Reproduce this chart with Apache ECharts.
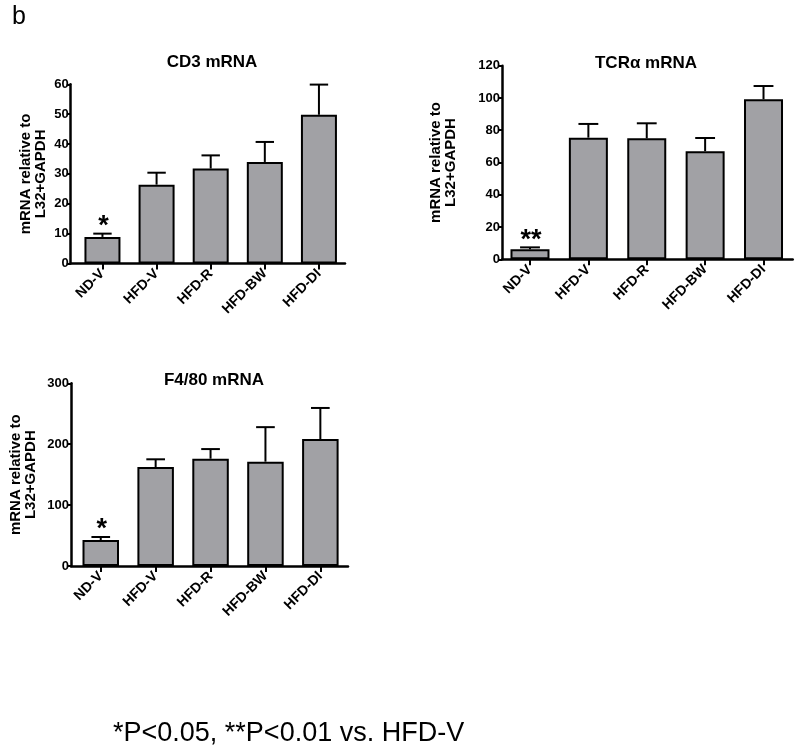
<!DOCTYPE html>
<html>
<head>
<meta charset="utf-8">
<script src="https://cdn.jsdelivr.net/npm/echarts@6/dist/echarts.min.js"></script>
<style>
html,body{margin:0;padding:0;background:#fff;}
#c{width:800px;height:755px;}
</style>
</head>
<body>
<div id="c"></div>
<script>
// ---- data ----
var categories = ['ND-V', 'HFD-V', 'HFD-R', 'HFD-BW', 'HFD-DI'];

var cd3Mean  = [8.9, 26.4, 31.8, 34.0, 49.8];
var cd3Upper = [10.0, 30.4, 36.2, 40.7, 59.9];
var cd3Sig   = ['*', '', '', '', ''];
var cd3Ticks = {min: 0, max: 60, interval: 10};

var tcrMean  = [6.2, 75.4, 75.0, 67.0, 99.2];
var tcrUpper = [7.4, 83.9, 84.3, 75.2, 107.4];
var tcrSig   = ['**', '', '', '', ''];
var tcrTicks = {min: 0, max: 120, interval: 20};

var f480Mean  = [42.7, 162.6, 176.2, 171.3, 208.5];
var f480Upper = [47.6, 175.2, 192.0, 228.0, 259.5];
var f480Sig   = ['*', '', '', '', ''];
var f480Ticks = {min: 0, max: 300, interval: 100};

var yName = 'mRNA relative to\nL32+GAPDH';
var FONT = "'Liberation Sans', Arial, sans-serif";

// ---- layout ----
var panels = [
  {title: 'CD3 mRNA', mean: cd3Mean, upper: cd3Upper, sig: cd3Sig, ticks: cd3Ticks,
   axisGrid: {left: 70.7, top: 84.3, width: 274.3, height: 179.2},
   barGrid:  {left: 75.4, top: 84.3, width: 270.6, height: 179.2},
   barWidth: 36, titleX: 212, titleY: 54, nameGap: 22},
  {title: 'TCR\u03b1 mRNA', mean: tcrMean, upper: tcrUpper, sig: tcrSig, ticks: tcrTicks,
   axisGrid: {left: 502, top: 65.7, width: 290.7, height: 193.6},
   barGrid:  {left: 500.8, top: 65.7, width: 291.9, height: 193.6},
   barWidth: 39, titleX: 646, titleY: 55, nameGap: 43.5},
  {title: 'F4/80 mRNA', mean: f480Mean, upper: f480Upper, sig: f480Sig, ticks: f480Ticks,
   axisGrid: {left: 71, top: 383.3, width: 277, height: 182.7},
   barGrid:  {left: 73.3, top: 383.3, width: 274.5, height: 182.7},
   barWidth: 36.5, titleX: 214, titleY: 372, nameGap: 33}
];

var grids = [], xAxes = [], yAxes = [], series = [], titles = [];

panels.forEach(function (p, k) {
  var gA = grids.length;
  grids.push(Object.assign({containLabel: false}, p.axisGrid));
  var gB = grids.length;
  grids.push(Object.assign({containLabel: false}, p.barGrid));

  // axis grid: y axis + baseline
  xAxes.push({
    type: 'category', gridIndex: gA, data: categories,
    axisLine: {show: true, lineStyle: {color: '#000', width: 2.5}},
    axisTick: {show: false}, axisLabel: {show: false}, splitLine: {show: false}
  });
  yAxes.push({
    type: 'value', gridIndex: gA, min: p.ticks.min, max: p.ticks.max, interval: p.ticks.interval,
    axisLine: {show: true, lineStyle: {color: '#000', width: 2.5}},
    axisTick: {show: true, length: 4, lineStyle: {color: '#000', width: 2}},
    axisLabel: {color: '#000', fontFamily: FONT, fontWeight: 'bold', fontSize: 13, margin: 2},
    splitLine: {show: false},
    name: yName, nameLocation: 'middle', nameRotate: 90, nameGap: p.nameGap, nameMoveOverlap: false,
    nameTextStyle: {color: '#000', fontFamily: FONT, fontWeight: 'bold', fontSize: 15, lineHeight: 15}
  });

  // bar grid: ticks + labels + bars
  xAxes.push({
    type: 'category', gridIndex: gB, data: categories,
    axisLine: {show: false},
    axisTick: {show: true, alignWithLabel: true, length: 6, lineStyle: {color: '#000', width: 2}},
    axisLabel: {color: '#000', fontFamily: FONT, fontWeight: 'bold', fontSize: 14, rotate: 45, margin: 8, interval: 0},
    splitLine: {show: false}
  });
  var xB = xAxes.length - 1;
  yAxes.push({
    type: 'value', gridIndex: gB, min: p.ticks.min, max: p.ticks.max, interval: p.ticks.interval,
    show: false
  });
  var yB = yAxes.length - 1;

  series.push({
    type: 'bar', xAxisIndex: xB, yAxisIndex: yB, data: p.mean, barWidth: p.barWidth,
    itemStyle: {color: '#a1a1a5', borderColor: '#000', borderWidth: 2},
    silent: true, z: 2
  });

  var errData = p.mean.map(function (m, i) { return [i, m, p.upper[i]]; });
  var sig = p.sig;
  series.push({
    type: 'custom', xAxisIndex: xB, yAxisIndex: yB, data: errData, z: 3, silent: true,
    renderItem: function (params, api) {
      var i = api.value(0);
      var top = api.coord([i, api.value(2)]);
      var base = api.coord([i, api.value(1)]);
      var bw = api.size([1, 0])[0];
      var cap = bw * 0.34 / 2;
      var children = [
        {type: 'line', shape: {x1: top[0], y1: base[1], x2: top[0], y2: top[1]},
         style: {stroke: '#000', lineWidth: 2}},
        {type: 'line', shape: {x1: top[0] - cap, y1: top[1], x2: top[0] + cap, y2: top[1]},
         style: {stroke: '#000', lineWidth: 2}}
      ];
      var s = sig[params.dataIndex];
      if (s) {
        children.push({type: 'text', x: top[0] + 1, y: top[1] - 7,
          style: {text: s, fill: '#000', font: 'bold 27px ' + FONT, align: 'center', verticalAlign: 'middle'}});
      }
      return {type: 'group', children: children};
    }
  });

  titles.push({text: p.title, left: p.titleX, top: p.titleY, textAlign: 'center', padding: 0,
    textStyle: {color: '#000', fontFamily: FONT, fontWeight: 'bold', fontSize: 17}});
});

titles.push({text: 'b', left: 12, top: 5, padding: 0,
  textStyle: {color: '#000', fontFamily: FONT, fontWeight: 'normal', fontSize: 25}});
titles.push({text: '*P<0.05, **P<0.01 vs. HFD-V', left: 113, top: 720, padding: 0,
  textStyle: {color: '#000', fontFamily: FONT, fontWeight: 'normal', fontSize: 27}});

var chart = echarts.init(document.getElementById('c'), null, {renderer: 'canvas'});
chart.setOption({
  animation: false,
  backgroundColor: '#fff',
  title: titles,
  grid: grids,
  xAxis: xAxes,
  yAxis: yAxes,
  series: series
});
</script>
</body>
</html>
